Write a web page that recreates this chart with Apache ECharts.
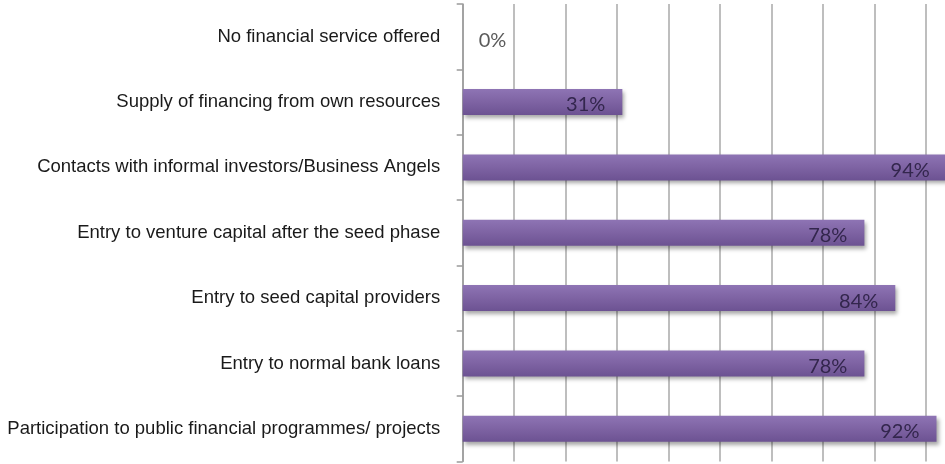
<!DOCTYPE html>
<html>
<head>
<meta charset="utf-8">
<script src="https://cdn.jsdelivr.net/npm/echarts@6/dist/echarts.min.js"></script>
<style>
  html, body { margin: 0; padding: 0; background: #ffffff; }
  #chart { width: 945px; height: 464px; }
</style>
</head>
<body>
<div id="chart"></div>
<script>
// Financial services offered, share of respondents (%)
const categories = [
  'No financial service offered',
  'Supply of financing from own resources',
  'Contacts with informal investors/Business Angels',
  'Entry to venture capital after the seed phase',
  'Entry to seed capital providers',
  'Entry to normal bank loans',
  'Participation to public financial programmes/ projects'
];
const shares = [0, 31, 94, 78, 84, 78, 92];
const axisTicks = { min: 0, max: 100, interval: 10 };

const barFill = new echarts.graphic.LinearGradient(0, 0, 0, 1, [
  { offset: 0, color: '#8e74b4' },
  { offset: 0.5, color: '#7e63a3' },
  { offset: 1, color: '#6c5292' }
]);

const seriesData = shares.map(function (v) {
  if (v === 0) {
    // an empty bar gets its label just right of the axis
    return {
      value: v,
      label: { position: 'right', distance: 16, color: '#5a5a5a', offset: [0, 4] }
    };
  }
  return { value: v };
});

const chart = echarts.init(document.getElementById('chart'), null, { renderer: 'canvas' });
chart.setOption({
  animation: false,
  backgroundColor: '#ffffff',
  // the plot runs on past the right edge of the page (100% sits off-canvas)
  grid: {
    left: 462.7, top: 4, bottom: 2.5, width: 515,
    containLabel: false,
    outerBoundsMode: 'none'
  },
  xAxis: {
    type: 'value',
    min: axisTicks.min,
    max: axisTicks.max,
    interval: axisTicks.interval,
    axisLine: { show: false },
    axisTick: { show: false },
    axisLabel: { show: false },
    splitLine: { show: true, lineStyle: { color: '#a8a8a8', width: 1.5 } }
  },
  yAxis: {
    type: 'category',
    inverse: true,
    data: categories,
    axisLine: { show: true, lineStyle: { color: '#9a9a9a', width: 1.5 } },
    axisTick: { show: true, inside: false, length: 6, lineStyle: { color: '#9a9a9a', width: 1.5 } },
    axisLabel: {
      margin: 22.5,
      fontFamily: 'Liberation Sans, Arial, sans-serif',
      fontSize: 18.5,
      color: '#1a1a1a'
    },
    splitLine: { show: false }
  },
  series: [{
    type: 'bar',
    data: seriesData,
    barWidth: 26,
    itemStyle: {
      color: barFill,
      shadowColor: 'rgba(0,0,0,0.35)',
      shadowBlur: 4,
      shadowOffsetX: 2,
      shadowOffsetY: 3
    },
    label: {
      show: true,
      position: 'insideRight',
      distance: 17,
      offset: [0, 3],
      formatter: '{c}%',
      fontFamily: 'Lato, sans-serif',
      fontSize: 20,
      color: '#33264d'
    }
  }]
});
</script>
</body>
</html>
